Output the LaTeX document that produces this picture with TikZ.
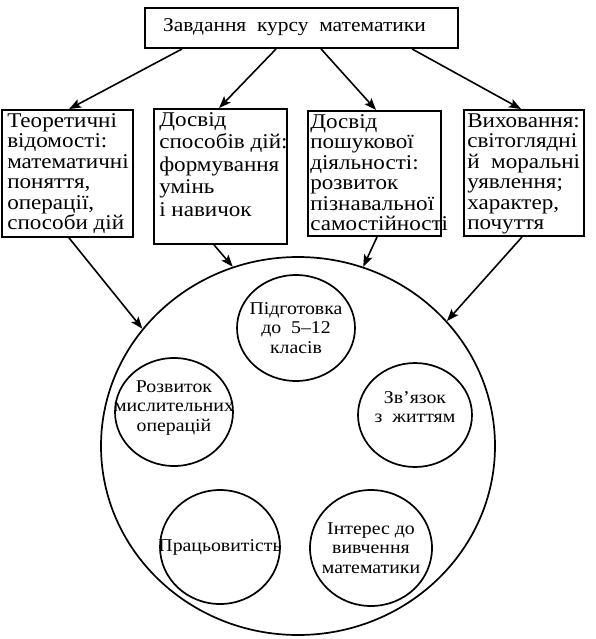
\documentclass[tikz,border=0pt]{standalone}
\usepackage{fontspec}
\setmainfont{Liberation Serif}[FakeStretch=1.1]
\usetikzlibrary{calc,arrows.meta,shapes.geometric}
\begin{document}
\begin{tikzpicture}[x=1pt,y=-1pt,
  box/.style={draw,line width=1.9pt,rectangle,inner sep=0pt},
  btext/.style={anchor=north west,inner sep=0pt,align=left,font=\fontsize{21}{20.5}\selectfont},
  bigc/.style={draw,line width=1.7pt,ellipse,inner sep=0pt,minimum width=394pt,minimum height=378pt},
  smallc/.style={draw,line width=1.7pt,ellipse,inner sep=0pt},
  ctext/.style={inner sep=0pt,align=center,font=\fontsize{18}{19.5}\selectfont},
  arr/.style={line width=1.6pt,-{Stealth[length=12pt,width=9pt,inset=2.5pt]}}]
\useasboundingbox (0,0) rectangle (596,639);

\node[box,minimum width=313pt,minimum height=40pt] (top) at (301.5,28) {};
\node[anchor=west,inner sep=0pt,font=\fontsize{19.5}{22}\selectfont] (toptext) at (163,27) {Завдання\ \ курсу\ \ математики};

\node[box,minimum width=131pt,minimum height=127pt] (b1) at (67.5,173.5) {};
\node[box,minimum width=133pt,minimum height=135pt] (b2) at (220.5,176.5) {};
\node[box,minimum width=133pt,minimum height=125pt] (b3) at (374.5,173.5) {};
\node[box,minimum width=120pt,minimum height=126pt] (b4) at (524,173) {};

\node[btext] (t1) at ($(b1.north west)+(6,4)$) {Теоретичні\\відомості:\\математичні\\поняття,\\операції,\\способи дій};
\node[btext,font=\fontsize{21}{22.5}\selectfont] (t2) at ($(b2.north west)+(6,4)$) {Досвід\\способів дій:\\формування\\умінь\\і навичок};
\node[btext] (t3) at ($(b3.north west)+(3,4)$) {Досвід\\пошукової\\діяльності:\\розвиток\\пізнавальної\\самостійності};
\node[btext] (t4) at ($(b4.north west)+(4,4)$) {Виховання:\\світоглядні\\й\ \ моральні\\уявлення;\\характер,\\почуття};

\node[bigc] (big) at (298,446) {};

\node[smallc,minimum width=118pt,minimum height=106pt] (c1) at (296,328) {};
\node[smallc,minimum width=118pt,minimum height=108pt] (c2) at (174,412) {};
\node[smallc,minimum width=114pt,minimum height=104pt] (c3) at (415,415) {};
\node[smallc,minimum width=120pt,minimum height=114pt] (c4) at (220,547) {};
\node[smallc,minimum width=122pt,minimum height=116pt] (c5) at (371,548) {};

\node[ctext] (ct1) at (c1.center) {Підготовка\\до\ \ 5–12\\класів};
\node[ctext] (ct2) at ($(c2.center)+(0,-4)$) {Розвиток\\мислительних\\операцій};
\node[ctext] (ct3) at ($(c3.center)+(0,-8)$) {Зв’язок\\з\ \ життям};
\node[ctext] (ct4) at (c4.center) {Працьовитість};
\node[ctext] (ct5) at (c5.center) {Інтерес до\\вивчення\\математики};

\draw[arr] ($(top.south west)+(38,0)$) -- ($(b1.north west)+(68,0)$);
\draw[arr] ($(top.south west)+(132,0)$) -- ($(b2.north west)+(66,0)$);
\draw[arr] ($(top.south west)+(177,0)$) -- ($(b3.north west)+(69,0)$);
\draw[arr] ($(top.south west)+(268,0)$) -- ($(b4.north west)+(58,0)$);

\draw[arr] ($(b1.south west)+(68,0)$) -- (big.143);
\draw[arr] ($(b2.south west)+(61,0)$) -- (big.110);
\draw[arr] ($(b3.south west)+(70,0)$) -- (big.70);
\draw[arr] ($(b4.south west)+(59,0)$) -- (big.40);
\end{tikzpicture}
\end{document}
